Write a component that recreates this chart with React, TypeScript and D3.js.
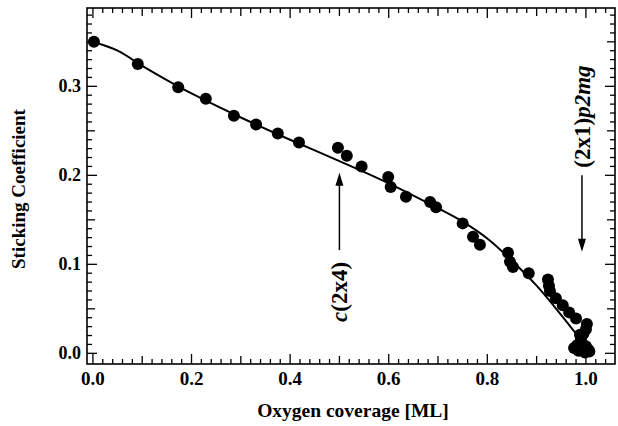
import { useEffect, useRef } from 'react';
import * as d3 from 'd3';

// measured points: oxygen coverage [ML] vs sticking coefficient
const coverage = [
  0.002, 0.091, 0.173, 0.229, 0.286, 0.331, 0.375, 0.418, 0.497, 0.515,
  0.545, 0.599, 0.604, 0.635, 0.684, 0.696, 0.750, 0.771, 0.785, 0.842,
  0.846, 0.852, 0.884, 0.923, 0.925, 0.927, 0.939, 0.953, 0.966, 0.980,
  1.002, 1.000, 0.988, 0.990, 0.995, 0.976, 0.985, 0.995, 1.005, 0.990,
  1.000, 0.982, 0.998, 1.007
];
const sticking = [
  0.350, 0.325, 0.299, 0.286, 0.267, 0.257, 0.247, 0.237, 0.231, 0.222,
  0.210, 0.198, 0.187, 0.176, 0.170, 0.164, 0.146, 0.131, 0.122, 0.113,
  0.103, 0.097, 0.090, 0.083, 0.076, 0.070, 0.062, 0.054, 0.046, 0.039,
  0.033, 0.027, 0.021, 0.016, 0.022, 0.006, 0.003, 0.004, 0.004, 0.010,
  0.008, 0.009, 0.001, 0.002
];

// model curve
const fitCoverage = [0.0, 0.05, 0.1, 0.15, 0.2, 0.3, 0.4, 0.5, 0.6, 0.7, 0.75, 0.8, 0.85, 0.9, 0.95, 0.98];
const fitSticking = [0.350, 0.340, 0.323, 0.307, 0.292, 0.265, 0.240, 0.216, 0.191, 0.163, 0.148, 0.129, 0.104, 0.076, 0.043, 0.022];

const xTickLabels = ['0.0', '0.2', '0.4', '0.6', '0.8', '1.0'];
const yTickLabels = ['0.0', '0.1', '0.2', '0.3'];

const FONT = '"Liberation Serif", "Times New Roman", serif';

export default function App() {
  const ref = useRef<SVGSVGElement | null>(null);

  useEffect(() => {
    const svg = d3.select(ref.current);
    svg.selectAll('*').remove();

    const left = 87, right = 615, top = 8, bottom = 364;

    const x = d3.scaleLinear().domain([-0.012, 1.059]).range([left, right]);
    const y = d3.scaleLinear().domain([-0.012, 0.388]).range([bottom, top]);

    // frame
    svg.append('rect')
      .attr('x', left).attr('y', top)
      .attr('width', right - left).attr('height', bottom - top)
      .attr('fill', 'none').attr('stroke', '#000').attr('stroke-width', 1.6);

    // x ticks every 0.02, on bottom and top
    const xt = d3.range(0, 53).map(i => i * 0.02).filter(v => v <= 1.05);
    const xLen = (i: number) => (i % 10 === 0 ? 10 : i % 5 === 0 ? 8 : 5);
    xt.forEach((v, i) => {
      const len = xLen(i);
      svg.append('line')
        .attr('x1', x(v)).attr('x2', x(v))
        .attr('y1', bottom).attr('y2', bottom - len)
        .attr('stroke', '#000').attr('stroke-width', 1.3);
      svg.append('line')
        .attr('x1', x(v)).attr('x2', x(v))
        .attr('y1', top).attr('y2', top + len)
        .attr('stroke', '#000').attr('stroke-width', 1.3);
    });

    // y ticks every 0.01, on left and right
    const yt = d3.range(0, 39).map(i => i * 0.01);
    yt.forEach((v, i) => {
      const len = i % 10 === 0 ? 10 : i % 5 === 0 ? 8 : 5;
      svg.append('line')
        .attr('x1', left).attr('x2', left + len)
        .attr('y1', y(v)).attr('y2', y(v))
        .attr('stroke', '#000').attr('stroke-width', 1.3);
      svg.append('line')
        .attr('x1', right).attr('x2', right - len)
        .attr('y1', y(v)).attr('y2', y(v))
        .attr('stroke', '#000').attr('stroke-width', 1.3);
    });

    // tick labels
    svg.append('g')
      .selectAll('text')
      .data(xTickLabels)
      .enter().append('text')
      .attr('x', d => x(+d))
      .attr('y', 385)
      .attr('text-anchor', 'middle')
      .attr('font-family', FONT)
      .attr('font-weight', 'bold')
      .attr('font-size', 19)
      .text(d => d);

    svg.append('g')
      .selectAll('text')
      .data(yTickLabels)
      .enter().append('text')
      .attr('x', left - 6)
      .attr('y', d => y(+d) + 6)
      .attr('text-anchor', 'end')
      .attr('font-family', FONT)
      .attr('font-weight', 'bold')
      .attr('font-size', 18)
      .text(d => d);

    // axis titles
    svg.append('text')
      .attr('x', 353).attr('y', 417)
      .attr('text-anchor', 'middle')
      .attr('font-family', FONT).attr('font-weight', 'bold').attr('font-size', 19.5)
      .text('Oxygen coverage [ML]');

    svg.append('text')
      .attr('transform', 'translate(25,189) rotate(-90)')
      .attr('text-anchor', 'middle')
      .attr('font-family', FONT).attr('font-weight', 'bold').attr('font-size', 19)
      .text('Sticking Coefficient');

    // fit curve
    const fit = fitCoverage.map((c, i) => [c, fitSticking[i]] as [number, number]);
    const line = d3.line<[number, number]>()
      .x(d => x(d[0]))
      .y(d => y(d[1]))
      .curve(d3.curveCatmullRom);
    svg.append('path')
      .datum(fit)
      .attr('fill', 'none')
      .attr('stroke', '#000')
      .attr('stroke-width', 2)
      .attr('d', line);

    // data points
    svg.append('g')
      .selectAll('circle')
      .data(coverage.map((c, i) => ({ c, s: sticking[i] })))
      .enter().append('circle')
      .attr('cx', d => x(d.c))
      .attr('cy', d => y(d.s))
      .attr('r', 6)
      .attr('fill', '#000');

    // annotation arrows
    const arrow = (xv: number, fromY: number, toY: number) => {
      const px = x(xv), y1 = y(fromY), y2 = y(toY);
      const dir = y2 < y1 ? 1 : -1;
      svg.append('line')
        .attr('x1', px).attr('x2', px)
        .attr('y1', y1).attr('y2', y2 + dir * 10)
        .attr('stroke', '#000').attr('stroke-width', 1.5);
      svg.append('path')
        .attr('d', `M${px},${y2} L${px - 4},${y2 + dir * 13} L${px + 4},${y2 + dir * 13} Z`)
        .attr('fill', '#000');
    };
    arrow(0.5, 0.116, 0.203);
    arrow(0.992, 0.200, 0.114);

    const label = (xv: number, yv: number, parts: { t: string; italic: boolean }[]) => {
      const t = svg.append('text')
        .attr('transform', `translate(${x(xv) + 8},${y(yv)}) rotate(-90)`)
        .attr('text-anchor', 'middle')
        .attr('font-family', FONT).attr('font-weight', 'bold').attr('font-size', 23);
      parts.forEach(p => {
        t.append('tspan').attr('font-style', p.italic ? 'italic' : 'normal').text(p.t);
      });
    };
    label(0.5, 0.069, [{ t: 'c', italic: true }, { t: '(2x4)', italic: false }]);
    label(0.992, 0.266, [{ t: '(2x1)', italic: false }, { t: 'p2mg', italic: true }]);
  }, []);

  return (
    <svg
      ref={ref}
      width={618}
      height={426}
      style={{ position: 'absolute', left: 0, top: 0, background: '#fff' }}
    />
  );
}
